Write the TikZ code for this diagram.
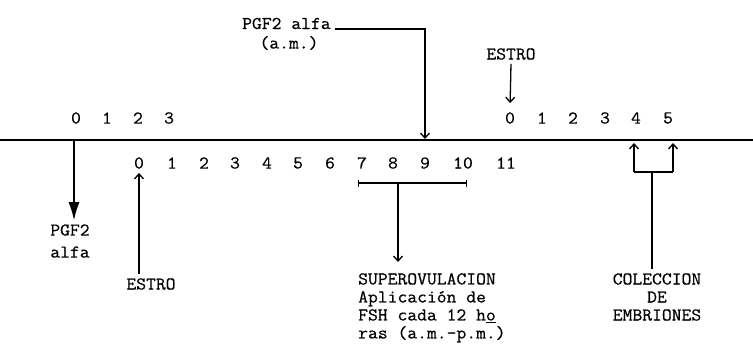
\documentclass[tikz,border=0pt]{standalone}
\usepackage{fontspec}
\setmonofont[FakeStretch=1.06, FakeBold=0.6]{Latin Modern Mono}
\usetikzlibrary{arrows.meta}

\begin{document}
\begin{tikzpicture}[x=1pt, y=-1pt,
    dia/.style={font=\fontsize{18}{18}\selectfont\ttfamily, inner sep=4pt},
    texto/.style={font=\fontsize{18}{18}\selectfont\ttfamily, inner sep=4pt, align=center},
    linea/.style={line width=1.3pt},
    flecha/.style={line width=1.3pt, -{Straight Barb[length=5pt, width=9pt]}}]

    \useasboundingbox (0,0) rectangle (753,360);

    % linea del tiempo
    \coordinate (ini) at (0,140);
    \coordinate (fin) at (753,140);
    \draw[linea] (ini) -- (fin);

    % dias del ciclo anterior
    \node[dia] (t0) at (76,118) {0};
    \node[dia] (t1) at (107,118) {1};
    \node[dia] (t2) at (138,118) {2};
    \node[dia] (t3) at (169,118) {3};

    % dias del tratamiento
    \node[dia] (b0) at (139,163) {0};
    \node[dia] (b1) at (172,163) {1};
    \node[dia] (b2) at (204,163) {2};
    \node[dia] (b3) at (235,163) {3};
    \node[dia] (b4) at (267,163) {4};
    \node[dia] (b5) at (298,163) {5};
    \node[dia] (b6) at (330,163) {6};
    \node[dia] (b7) at (362,163) {7};
    \node[dia] (b8) at (393,163) {8};
    \node[dia] (b9) at (425,163) {9};
    \node[dia] (b10) at (463,163) {10};
    \node[dia] (b11) at (506,163) {11};

    % dias del nuevo ciclo
    \node[dia] (r0) at (510,118) {0};
    \node[dia] (r1) at (542,118) {1};
    \node[dia] (r2) at (573,118) {2};
    \node[dia] (r3) at (605,118) {3};
    \node[dia] (r4) at (636,118) {4};
    \node[dia] (r5) at (668,118) {5};

    % PGF2 alfa (a.m.) sobre el dia 9
    \node[texto, anchor=base west] (pgfTop) at (238,29) {PGF2 alfa};
    \node[texto] (am) at (289,43) {(a.m.)};
    \draw[flecha, shorten >=1pt] (pgfTop.base east) -| (b9 |- fin);

    % estro del nuevo ciclo
    \node[texto] (estroTop) at (511,54) {ESTRO};
    \draw[flecha, shorten >=5pt] (estroTop.south) -- (r0.north);

    % PGF2 alfa al dia 0
    \coordinate (pgfBase) at (74,140);
    \node[texto] (pgfLow) at (70,241) {PGF2\\[4pt]alfa};
    \draw[linea, -{Latex[length=18pt, width=11pt]}] (pgfBase) -- (pgfBase |- pgfLow.north);

    % estro al dia 0
    \node[texto] (estroLow) at (151,284) {ESTRO};
    \draw[flecha] (estroLow.north -| b0) -- (b0.south);

    % superovulacion, dias 7 a 10
    \coordinate (supIzq) at (358,183);
    \coordinate (supDer) at (467,183);
    \coordinate (supMedio) at (398,183);
    \draw[linea, {Bar[width=7pt]}-{Bar[width=7pt]}] (supIzq) -- (supDer);
    \node[texto, align=left, anchor=north west] (superTxt) at (354,269)
        {SUPEROVULACION\\Aplicación de\\FSH cada 12 h\underline{o}\\ras (a.m.-p.m.)};
    \draw[flecha, shorten >=7pt] (supMedio) -- (supMedio |- superTxt.north);

    % coleccion, dias 4 y 5
    \coordinate (colIzq) at (634,172);
    \coordinate (colDer) at (673,172);
    \coordinate (colMedio) at (652,172);
    \draw[flecha, shorten >=3pt] (colIzq) -- (colIzq |- fin);
    \draw[flecha, shorten >=3pt] (colDer) -- (colDer |- fin);
    \draw[linea] (colIzq) -- (colDer);
    \node[texto] (colTxt) at (657,297) {COLECCION\\DE\\EMBRIONES};
    \draw[linea] (colMedio) -- (colMedio |- colTxt.north);
\end{tikzpicture}
\end{document}
